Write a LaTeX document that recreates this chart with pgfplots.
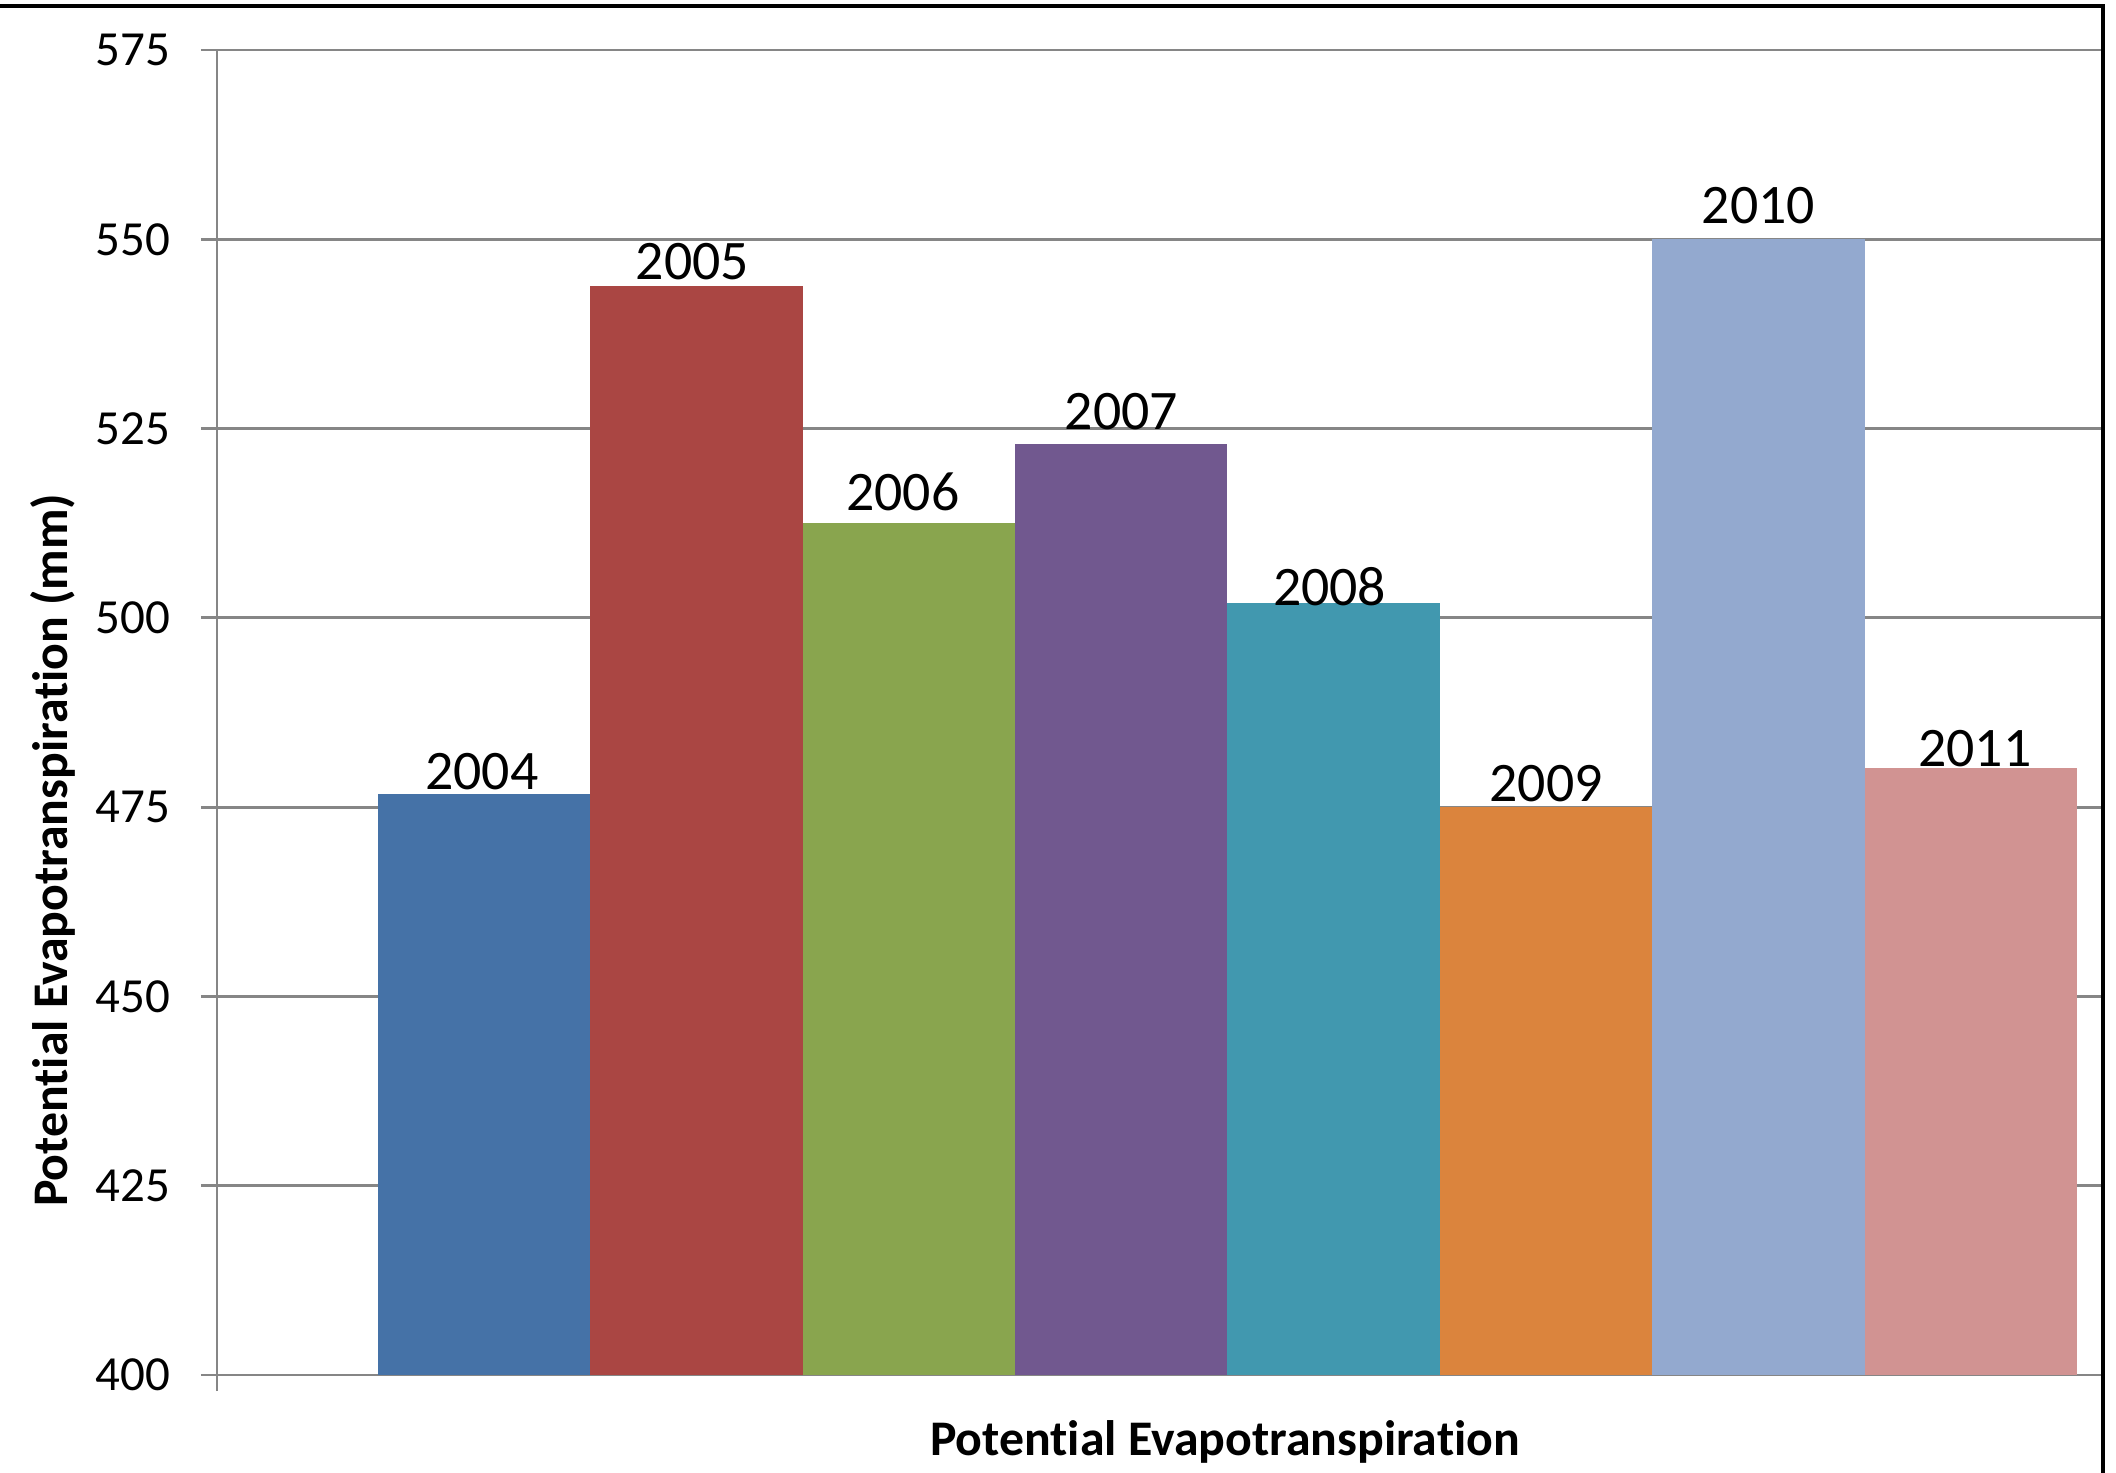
\documentclass[border=0pt]{standalone}
\usepackage{pgfplots}
\pgfplotsset{compat=1.18}
\usepackage{fontspec}
\setmainfont{Carlito}[Ligatures=NoCommon]
\definecolor{c04}{HTML}{4572A7}
\definecolor{c05}{HTML}{AA4643}
\definecolor{c06}{HTML}{89A54E}
\definecolor{c07}{HTML}{71588F}
\definecolor{c08}{HTML}{4198AF}
\definecolor{c09}{HTML}{DB843D}
\definecolor{c10}{HTML}{93A9CF}
\definecolor{c11}{HTML}{D19392}
\definecolor{gridgray}{HTML}{868686}
\begin{document}
\begin{tikzpicture}
\useasboundingbox (-54.25bp,-24.5bp) rectangle (474.75bp,343.75bp);
\fill[white] (-54.25bp,-24.5bp) rectangle (474.75bp,343.75bp);
\begin{axis}[
  at={(0,0)}, anchor=south west,
  width=471bp, height=331.25bp, scale only axis,
  xmin=-1.258, xmax=7.613, ymin=400, ymax=575,
  ytick={400,425,450,475,500,525,550,575},
  xtick={-1.258}, xticklabels={},
  /pgf/number format/assume math mode=true,
  axis lines*=left,
  axis line style={gridgray, line width=0.7bp},
  tick style={gridgray, line width=0.7bp},
  major tick length=4bp, tick align=outside,
  ymajorgrids, grid style={gridgray, line width=0.7bp},
  yticklabel style={font=\fontsize{12.3}{14}\selectfont, text=black, anchor=east, inner sep=0pt, xshift=-7.5bp},
  ybar, bar width=1, bar shift=0pt,
  xlabel={Potential Evapotranspiration},
  every axis x label/.style={at={(axis description cs:0.535,0)}, anchor=north, inner sep=0pt, yshift=-11.25bp, font=\bfseries\fontsize{12.5}{14}\selectfont},
  ylabel={Potential Evapotranspiration (mm)},
  every axis y label/.style={at={(axis description cs:-0.0796,0.396)}, rotate=90, anchor=base, inner sep=0pt, font=\bfseries\fontsize{12.5}{14}\selectfont},
  every node near coord/.append style={font=\fontsize{14}{16}\selectfont, text=black, inner sep=0pt, anchor=base},
]
\addplot[fill=c04, draw=none, nodes near coords={2004}, every node near coord/.append style={yshift=1.25bp, xshift=-0.6bp}] coordinates {(0,476.7)};
\addplot[fill=c05, draw=none, nodes near coords={2005}, every node near coord/.append style={yshift=1.75bp, xshift=-1bp}] coordinates {(1,543.8)};
\addplot[fill=c06, draw=none, nodes near coords={2006}, every node near coord/.append style={yshift=3.25bp, xshift=-1.5bp}] coordinates {(2,512.5)};
\addplot[fill=c07, draw=none, nodes near coords={2007}, every node near coord/.append style={yshift=3.75bp}] coordinates {(3,522.9)};
\addplot[fill=c08, draw=none, nodes near coords={2008}, every node near coord/.append style={yshift=-0.75bp, xshift=-1bp}] coordinates {(4,502.0)};
\addplot[fill=c09, draw=none, nodes near coords={2009}, every node near coord/.append style={yshift=1.5bp}] coordinates {(5,475.0)};
\addplot[fill=c10, draw=none, nodes near coords={2010}, every node near coord/.append style={yshift=4bp}] coordinates {(6,550.0)};
\addplot[fill=c11, draw=none, nodes near coords={2011}, every node near coord/.append style={yshift=0.25bp, xshift=1bp}] coordinates {(7,480.2)};
\end{axis}
\draw[black, line width=0.8bp] (-54.25bp,342.25bp) -- (471.5bp,342.25bp) -- (471.5bp,-24.5bp);
\end{tikzpicture}
\end{document}
